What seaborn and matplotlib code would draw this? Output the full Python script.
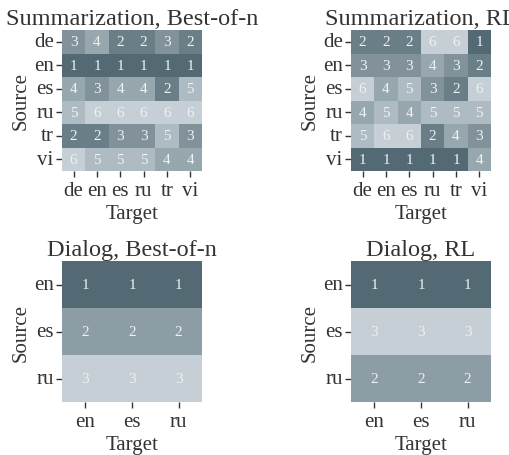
import numpy as np
import pandas as pd
import matplotlib
matplotlib.use("Agg")
import matplotlib.pyplot as plt
import seaborn as sns
from matplotlib.colors import LinearSegmentedColormap

# ---------------------------------------------------------------------------
# Data: rank of each source/target language pair
# ---------------------------------------------------------------------------
SUM_LANGS = ["de", "en", "es", "ru", "tr", "vi"]
DIALOG_LANGS = ["en", "es", "ru"]

sum_best_of_n = [
    [3, 4, 2, 2, 3, 2],
    [1, 1, 1, 1, 1, 1],
    [4, 3, 4, 4, 2, 5],
    [5, 6, 6, 6, 6, 6],
    [2, 2, 3, 3, 5, 3],
    [6, 5, 5, 5, 4, 4],
]
sum_rl = [
    [2, 2, 2, 6, 6, 1],
    [3, 3, 3, 4, 3, 2],
    [6, 4, 5, 3, 2, 6],
    [4, 5, 4, 5, 5, 5],
    [5, 6, 6, 2, 4, 3],
    [1, 1, 1, 1, 1, 4],
]
dialog_best_of_n = [
    [1, 1, 1],
    [2, 2, 2],
    [3, 3, 3],
]
dialog_rl = [
    [1, 1, 1],
    [3, 3, 3],
    [2, 2, 2],
]

panels = [
    ("Summarization, Best-of-n", sum_best_of_n, SUM_LANGS),
    ("Summarization, RL", sum_rl, SUM_LANGS),
    ("Dialog, Best-of-n", dialog_best_of_n, DIALOG_LANGS),
    ("Dialog, RL", dialog_rl, DIALOG_LANGS),
]

# ---------------------------------------------------------------------------
# Style
# ---------------------------------------------------------------------------
sns.set_theme(style="ticks")
plt.rcParams["font.family"] = ["Liberation Serif", "DejaVu Serif"]
plt.rcParams["text.color"] = "#333333"
plt.rcParams["axes.labelcolor"] = "#333333"
plt.rcParams["xtick.color"] = "#333333"
plt.rcParams["ytick.color"] = "#333333"

cmap = LinearSegmentedColormap.from_list("slate", ["#536a74", "#c5cfd5"])

fig = plt.figure(figsize=(5.09, 4.56), dpi=100)
positions = [
    [62 / 509, 284 / 456, 140 / 509, 141 / 456],
    [351 / 509, 284 / 456, 140 / 509, 141 / 456],
    [62 / 509, 53 / 456, 140 / 509, 141 / 456],
    [351 / 509, 53 / 456, 140 / 509, 141 / 456],
]

for (title, values, langs), pos in zip(panels, positions):
    ax = fig.add_axes(pos)
    df = pd.DataFrame(values, index=langs, columns=langs)
    sns.heatmap(
        df, ax=ax, cmap=cmap, annot=True, fmt="d", cbar=False,
        annot_kws={"color": "#eef2f4", "fontsize": 11},
    )
    ax.set_title(title, fontsize=17.5, pad=4)
    ax.set_xlabel("Target", fontsize=15, labelpad=3)
    ax.set_ylabel("Source", fontsize=15, labelpad=2)
    ax.tick_params(axis="both", labelsize=15, length=4, width=1, pad=2)
    ax.tick_params(axis="x", pad=3, rotation=0)
    ax.tick_params(axis="y", rotation=0)

fig.savefig("out.png", dpi=100)
